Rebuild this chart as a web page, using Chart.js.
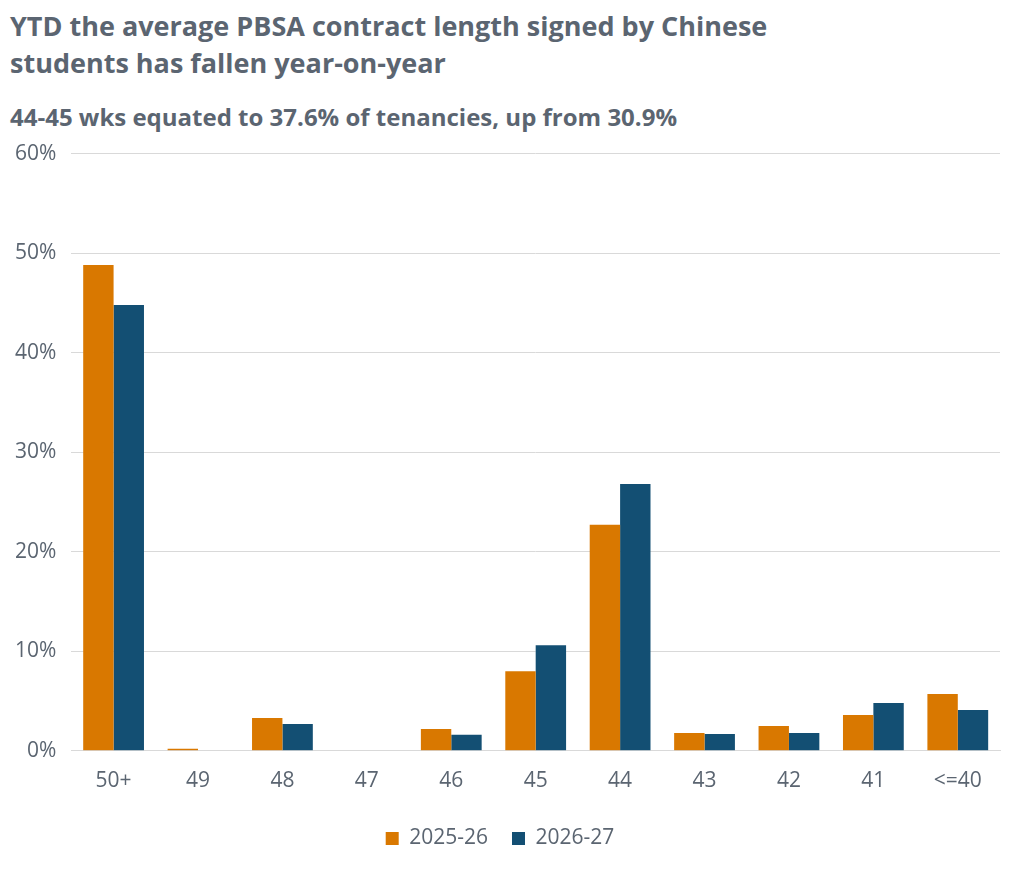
<!DOCTYPE html>
<html>
<head>
<meta charset="utf-8">
<script src="https://cdn.jsdelivr.net/npm/chart.js@4"></script>
<style>
  body { margin: 0; background: #fff; font-family: "Open Sans", sans-serif; color: #5b6571; }
  h1 { margin: 0; position: absolute; left: 10px; top: 7px; font-size: 27px; line-height: 37px; font-weight: 700; color: #5b6571; }
  h2 { margin: 0; position: absolute; left: 10px; top: 100px; font-size: 24px; font-weight: 700; color: #5b6571; }
  #wrap { position: absolute; left: 0; top: 126px; width: 1010px; height: 739px; }
</style>
</head>
<body>
<h1>YTD the average PBSA contract length signed by Chinese<br>students has fallen year-on-year</h1>
<h2>44-45 wks equated to 37.6% of tenancies, up from 30.9%</h2>
<div id="wrap"><canvas id="chart"></canvas></div>
<script>
const categories = ["50+", "49", "48", "47", "46", "45", "44", "43", "42", "41", "<=40"];
const values2526 = [48.8, 0.2, 3.3, 0, 2.2, 8.0, 22.7, 1.8, 2.5, 3.6, 5.7];
const values2627 = [44.8, 0, 2.7, 0, 1.6, 10.6, 26.8, 1.7, 1.8, 4.8, 4.1];

const ctx = document.getElementById("chart").getContext("2d");
const chart = new Chart(ctx, {
    type: "bar",
    data: {
        labels: categories,
        datasets: [{
            label: "2025-26",
            data: values2526,
            backgroundColor: "#d97800",
            categoryPercentage: 0.72,
            barPercentage: 1.0
        }, {
            label: "2026-27",
            data: values2627,
            backgroundColor: "#134f73",
            categoryPercentage: 0.72,
            barPercentage: 1.0
        }]
    },
    options: {
        responsive: true,
        maintainAspectRatio: false,
        animation: false,
        layout: { padding: { top: 8, right: 10, bottom: 6 } },
        plugins: {
            legend: {
                position: "bottom",
                labels: { boxWidth: 13, boxHeight: 13, padding: 24, color: "#5b6571", font: { family: "Open Sans", size: 21 } }
            },
            tooltip: { enabled: false }
        },
        scales: {
            x: {
                grid: { display: false },
                border: { color: "#d9d9d9" },
                ticks: { color: "#5b6571", padding: 10, font: { family: "Open Sans", size: 21 } }
            },
            y: {
                min: 0,
                max: 60,
                ticks: {
                    stepSize: 10,
                    color: "#5b6571",
                    padding: 15,
                    font: { family: "Open Sans", size: 21 },
                    callback: v => v + "%"
                },
                grid: { color: "#d9d9d9", drawTicks: false },
                border: { display: false }
            }
        }
    }
});
</script>
</body>
</html>
